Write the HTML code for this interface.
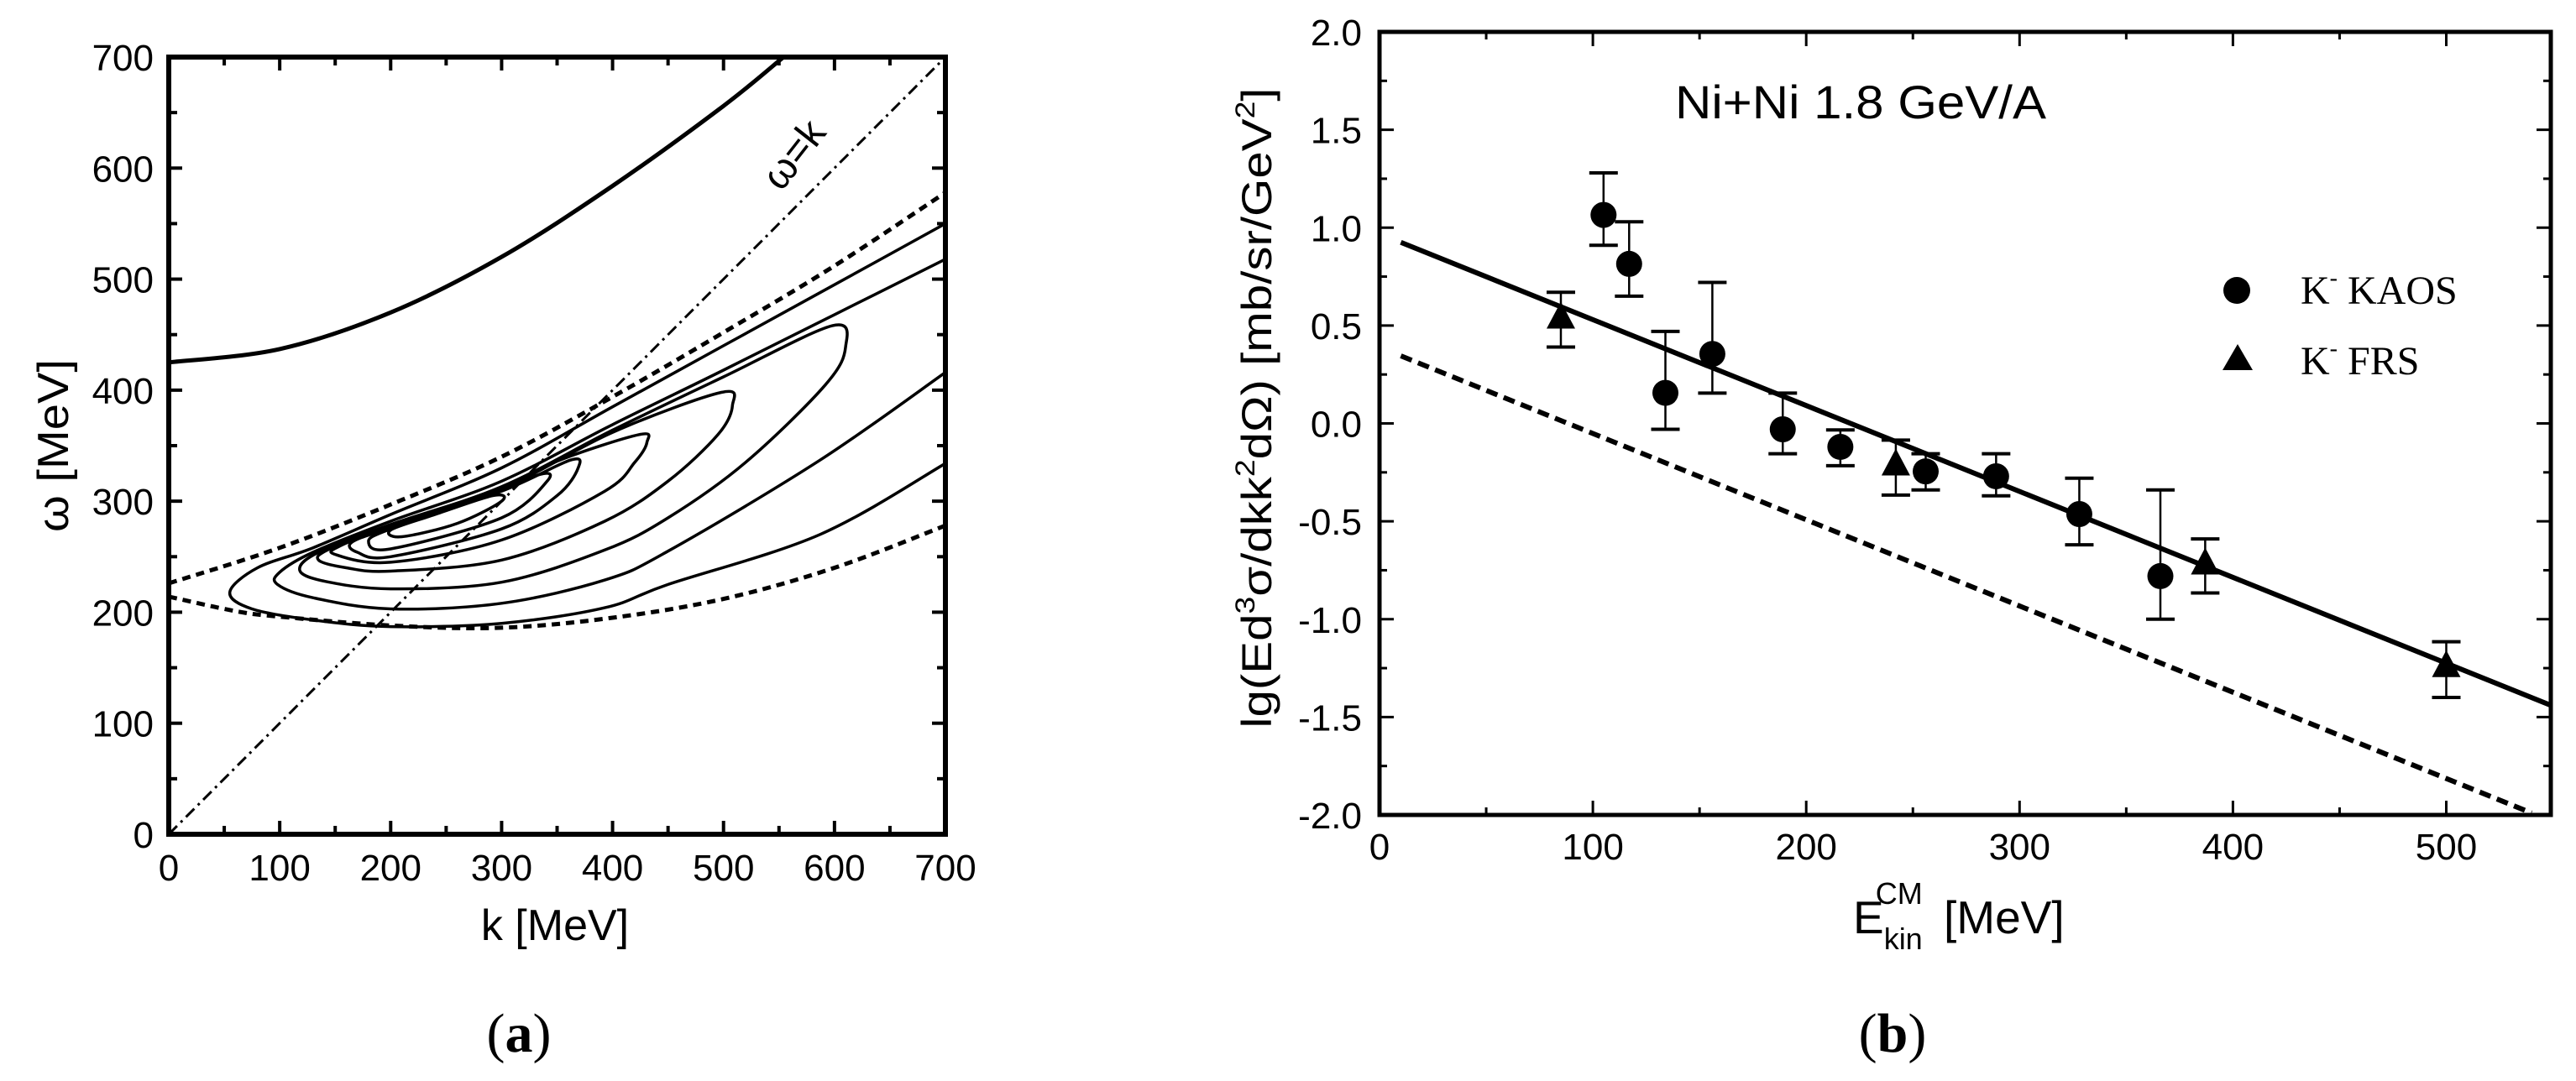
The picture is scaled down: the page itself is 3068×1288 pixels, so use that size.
<!DOCTYPE html>
<html><head><meta charset="utf-8"><style>
html,body{margin:0;padding:0;background:#fff;}
svg{display:block;}
text{font-family:"Liberation Sans",Arial,sans-serif;fill:#000;}
.serif{font-family:"Liberation Serif","Times New Roman",serif;}
</style></head><body>
<svg id="fig" xmlns="http://www.w3.org/2000/svg" width="3068" height="1288" viewBox="0 0 3068 1288">
<rect x="0" y="0" width="3068" height="1288" fill="#fff"/>
<g id="panelA"></g>
<g id="panelB"></g>
<text x="618" y="1253" font-size="66" text-anchor="middle" class="serif">(<tspan font-weight="bold">a</tspan>)</text>
<text x="2254" y="1253" font-size="66" text-anchor="middle" class="serif">(<tspan font-weight="bold">b</tspan>)</text>
</svg>
<script>
// ---------- Panel (a) data ----------
const aXTicks = [0,100,200,300,400,500,600,700];
const aYTicks = [0,100,200,300,400,500,600,700];
const upperBranchK = [0,100,200,300,400,500,554];
const upperBranchW = [425,437,470,520,584,656,700];
const lightLineK = [0,700];
const lightLineW = [0,700];
const dashUpperK = [0,100,200,300,400,500,600,700];
const dashUpperW = [226,258,297,340,394,452,512,578];
const dashLowerK = [0,60,100,200,300,400,500,600,700];
const dashLowerW = [214,201,196,188,186,195,212,240,278];
const contourA = [[700,550],[600,495],[500,440],[400,385],[300,330],[200,288],[130,258],[80,240],[55,218],[75,203],[130,193],[200,187],[300,190],[393,204],[450,225],[587,270],[700,334]];
const contourB = [[700,518],[600,468],[500,418],[400,369],[300,318],[200,282],[130,254],[100,236],[98,225],[130,213],[200,203],[300,208],[393,229],[450,255],[587,337],[700,416]];
const contourC5 = [[610,439],[598,458],[500,412],[400,364],[300,313],[200,279],[135,254],[118,238],[140,228],[200,221],[300,227],[393,256],[450,285],[520,335],[592,405]];
const contourC4 = [[508,386],[498,398],[400,362],[300,311],[200,278],[145,257],[135,247],[160,240],[200,237],[300,247],[393,282],[450,318],[495,360]];
const contourC3 = [[431,353],[424,360],[350,336],[300,310],[200,277],[155,260],[150,252],[200,245],[300,265],[393,309],[420,335]];
const contourC2 = [[369,330],[362,337],[300,309],[200,276],[165,263],[170,254],[200,250],[300,275],[350,305]];
const contourC1 = [[341,318],[334,324],[280,302],[200,275],[180,264],[200,257],[300,285]];
const contourC0 = [[300,300],[292,305],[240,288],[200,274],[210,268],[260,280]];

// ---------- Panel (b) data ----------
const bXTicks = [0,100,200,300,400,500];
const bYTicks = [-2.0,-1.5,-1.0,-0.5,0.0,0.5,1.0,1.5,2.0];
const bYTickLabels = ["-2.0","-1.5","-1.0","-0.5","0.0","0.5","1.0","1.5","2.0"];
const kaosE = [105,117,134,156,189,216,256,289,328,366];
const kaosY = [1.065,0.815,0.156,0.355,-0.03,-0.12,-0.245,-0.27,-0.463,-0.78];
const kaosHi = [1.28,1.03,0.47,0.72,0.155,-0.033,-0.155,-0.155,-0.28,-0.34];
const kaosLo = [0.91,0.65,-0.03,0.155,-0.155,-0.216,-0.34,-0.37,-0.62,-1.0];
const frsE = [85,242,387,500];
const frsY = [0.54,-0.21,-0.716,-1.24];
const frsHi = [0.67,-0.085,-0.59,-1.115];
const frsLo = [0.39,-0.366,-0.866,-1.40];
const fitE = [10,549];
const fitY = [0.925,-1.44];
const dashE = [10,540];
const dashY = [0.345,-1.99];

const NS = "http://www.w3.org/2000/svg";
function mk(tag, attrs, parent){
  const e = document.createElementNS(NS, tag);
  for (const k in attrs) e.setAttribute(k, attrs[k]);
  parent.appendChild(e);
  return e;
}
function smoothPath(pts, closed){
  const n = pts.length;
  let d = "M" + pts[0][0].toFixed(1) + "," + pts[0][1].toFixed(1);
  const get = i => closed ? pts[(i+n)%n] : pts[Math.max(0,Math.min(n-1,i))];
  const last = closed ? n : n-1;
  for (let i=0;i<last;i++){
    const p0=get(i-1),p1=get(i),p2=get(i+1),p3=get(i+2);
    const c1=[p1[0]+(p2[0]-p0[0])/6,p1[1]+(p2[1]-p0[1])/6];
    const c2=[p2[0]-(p3[0]-p1[0])/6,p2[1]-(p3[1]-p1[1])/6];
    d += "C"+c1[0].toFixed(1)+","+c1[1].toFixed(1)+" "+c2[0].toFixed(1)+","+c2[1].toFixed(1)+" "+p2[0].toFixed(1)+","+p2[1].toFixed(1);
  }
  if (closed) d += "Z";
  return d;
}

// ---------- Panel (a) ----------
(function(){
  const g = document.getElementById('panelA');
  const L=201, R=1126, T=68, B=994;
  const xs = k => L + (k/700)*(R-L);
  const ys = w => B - (w/700)*(B-T);
  const clip = mk('clipPath',{id:'clipA'},mk('defs',{},g));
  mk('rect',{x:L,y:T,width:R-L,height:B-T},clip);
  const plot = mk('g',{'clip-path':'url(#clipA)'},g);
  
  

  const toPts = (K,W) => K.map((k,i)=>[xs(k),ys(W[i])]);
  let p = mk('path',{d:smoothPath(toPts(upperBranchK,upperBranchW),false),fill:'none',stroke:'#000','stroke-width':5},plot);
  
  
  p = mk('path',{d:"M"+xs(lightLineK[0])+","+ys(lightLineW[0])+"L"+xs(lightLineK[1])+","+ys(lightLineW[1]),fill:'none',stroke:'#000','stroke-width':3,'stroke-dasharray':'14 6 3 6'},plot);
  
  
  p = mk('path',{d:smoothPath(toPts(dashUpperK,dashUpperW),false),fill:'none',stroke:'#000','stroke-width':5,'stroke-dasharray':'10 7'},plot);
  
  
  p = mk('path',{d:smoothPath(toPts(dashLowerK,dashLowerW),false),fill:'none',stroke:'#000','stroke-width':5,'stroke-dasharray':'10 7'},plot);
  
  
  const cs = [[contourA,false,'contour-a'],[contourB,false,'contour-b'],[contourC5,true,'contour-c5'],[contourC4,true,'contour-c4'],[contourC3,true,'contour-c3'],[contourC2,true,'contour-c2'],[contourC1,true,'contour-c1'],[contourC0,true,'contour-c0']];
  cs.forEach(c=>{
    const e = mk('path',{d:smoothPath(c[0].map(q=>[xs(q[0]),ys(q[1])]),c[1]),fill:'none',stroke:'#000','stroke-width':3.5},plot);
    
    
  });
  const fr = mk('rect',{x:L,y:T,width:R-L,height:B-T,fill:'none',stroke:'#000','stroke-width':6},g);
  
  
  for (let v=0; v<=700; v+=50){
    const len = (v%100===0)?16:10;
    const x = xs(v), y = ys(v);
    mk('line',{x1:x,y1:B,x2:x,y2:B-len,stroke:'#000','stroke-width':4},g);
    mk('line',{x1:x,y1:T,x2:x,y2:T+len,stroke:'#000','stroke-width':4},g);
    mk('line',{x1:L,y1:y,x2:L+len,y2:y,stroke:'#000','stroke-width':4},g);
    mk('line',{x1:R,y1:y,x2:R-len,y2:y,stroke:'#000','stroke-width':4},g);
  }
  aXTicks.forEach(v=>{
    const t = mk('text',{x:xs(v),y:1049,'font-size':44,'text-anchor':'middle'},g);
    t.textContent = v;
    
    
  });
  aYTicks.forEach(v=>{
    const t = mk('text',{x:183,y:ys(v)+16,'font-size':44,'text-anchor':'end'},g);
    t.textContent = v;
    
    
  });
  let t = mk('text',{x:661,y:1120,'font-size':52,'text-anchor':'middle'},g);
  t.textContent = 'k [MeV]';
  
  
  t = mk('text',{x:0,y:0,'font-size':52,'text-anchor':'middle',transform:'translate(81,531) rotate(-90)',textLength:206,lengthAdjust:'spacingAndGlyphs'},g);
  t.textContent = 'ω [MeV]';
  
  
  t = mk('text',{x:0,y:0,'font-size':48,'text-anchor':'middle',transform:'translate(958,194) rotate(-52)'},g);
  t.textContent = 'ω=k';
  
  
})();

// ---------- Panel (b) ----------
(function(){
  const g = document.getElementById('panelB');
  const L=1643, R=3038, T=38, B=971;
  const xMax = 549;
  const xs = e => L + (e/xMax)*(R-L);
  const ys = v => B - ((v+2)/4)*(B-T);
  const clip = mk('clipPath',{id:'clipB'},mk('defs',{},g));
  mk('rect',{x:L,y:T,width:R-L,height:B-T},clip);
  const plot = mk('g',{'clip-path':'url(#clipB)'},g);
  
  

  let ln = mk('line',{x1:xs(fitE[0]),y1:ys(fitY[0]),x2:xs(fitE[1]),y2:ys(fitY[1]),stroke:'#000','stroke-width':6},plot);
  
  
  ln = mk('line',{x1:xs(dashE[0]),y1:ys(dashY[0]),x2:xs(dashE[1]),y2:ys(dashY[1]),stroke:'#000','stroke-width':6,'stroke-dasharray':'14 8'},plot);
  
  

  function errbar(x, hi, lo, name){
    const e = mk('g',{},plot);
    
    
    mk('line',{x1:x,y1:ys(hi),x2:x,y2:ys(lo),stroke:'#000','stroke-width':2.5},e);
    mk('line',{x1:x-17,y1:ys(hi),x2:x+17,y2:ys(hi),stroke:'#000','stroke-width':4},e);
    mk('line',{x1:x-17,y1:ys(lo),x2:x+17,y2:ys(lo),stroke:'#000','stroke-width':4},e);
  }
  kaosE.forEach((e,i)=>{
    const x = xs(e);
    errbar(x, kaosHi[i], kaosLo[i], 'kaos-error-bar');
    const c = mk('circle',{cx:x,cy:ys(kaosY[i]),r:15.5,fill:'#000'},plot);
    
    
  });
  frsE.forEach((e,i)=>{
    const x = xs(e), y = ys(frsY[i]);
    errbar(x, frsHi[i], frsLo[i], 'frs-error-bar');
    const tr = mk('polygon',{points:(x)+","+(y-19)+" "+(x-17)+","+(y+13)+" "+(x+17)+","+(y+13),fill:'#000'},plot);
    
    
  });

  const fr = mk('rect',{x:L,y:T,width:R-L,height:B-T,fill:'none',stroke:'#000','stroke-width':5},g);
  
  
  for (let v=0; v<=xMax; v+=50){
    const len = (v%100===0)?17:9;
    const x = xs(v);
    mk('line',{x1:x,y1:B,x2:x,y2:B-len,stroke:'#000','stroke-width':3},g);
    mk('line',{x1:x,y1:T,x2:x,y2:T+len,stroke:'#000','stroke-width':3},g);
  }
  for (let v=-2; v<=2.001; v+=0.25){
    const len = (Math.abs(v*2-Math.round(v*2))<1e-6)?17:9;
    const y = ys(v);
    mk('line',{x1:L,y1:y,x2:L+len,y2:y,stroke:'#000','stroke-width':3},g);
    mk('line',{x1:R,y1:y,x2:R-len,y2:y,stroke:'#000','stroke-width':3},g);
  }
  bXTicks.forEach(v=>{
    const t = mk('text',{x:xs(v),y:1024,'font-size':44,'text-anchor':'middle'},g);
    t.textContent = v;
    
    
  });
  bYTicks.forEach((v,i)=>{
    const t = mk('text',{x:1622,y:ys(v)+16,'font-size':44,'text-anchor':'end'},g);
    t.textContent = bYTickLabels[i];
    
    
  });
  let t = mk('text',{x:1995,y:141,'font-size':56,textLength:442,lengthAdjust:'spacingAndGlyphs'},g);
  t.textContent = 'Ni+Ni 1.8 GeV/A';
  
  
  let lc = mk('circle',{cx:2664,cy:346,r:16,fill:'#000'},g);
  
  
  let lt = mk('polygon',{points:"2665,410 2647,441 2683,441",fill:'#000'},g);
  
  
  t = mk('text',{x:2740,y:362,'font-size':48,class:'serif'},g);
  t.innerHTML = 'K<tspan font-size="28" dy="-22">-</tspan><tspan dy="22"> KAOS</tspan>';
  
  
  t = mk('text',{x:2740,y:446,'font-size':48,class:'serif'},g);
  t.innerHTML = 'K<tspan font-size="28" dy="-22">-</tspan><tspan dy="22"> FRS</tspan>';
  
  
  t = mk('text',{x:2207,y:1112,'font-size':55},g);
  t.innerHTML = 'E<tspan font-size="36" dy="19">kin</tspan><tspan font-size="36" dx="-56" dy="-54">CM</tspan><tspan dx="10" dy="35"> [MeV]</tspan>';
  
  
  t = mk('text',{x:0,y:0,'font-size':50,'text-anchor':'middle',transform:'translate(1514,486) rotate(-90)',textLength:763,lengthAdjust:'spacingAndGlyphs'},g);
  t.innerHTML = 'lg(Ed<tspan font-size="32" dy="-20">3</tspan><tspan dy="20">σ/dkk</tspan><tspan font-size="32" dy="-20">2</tspan><tspan dy="20">dΩ) [mb/sr/GeV</tspan><tspan font-size="32" dy="-20">2</tspan><tspan dy="20">]</tspan>';
  
  
})();
</script>
</body></html>
